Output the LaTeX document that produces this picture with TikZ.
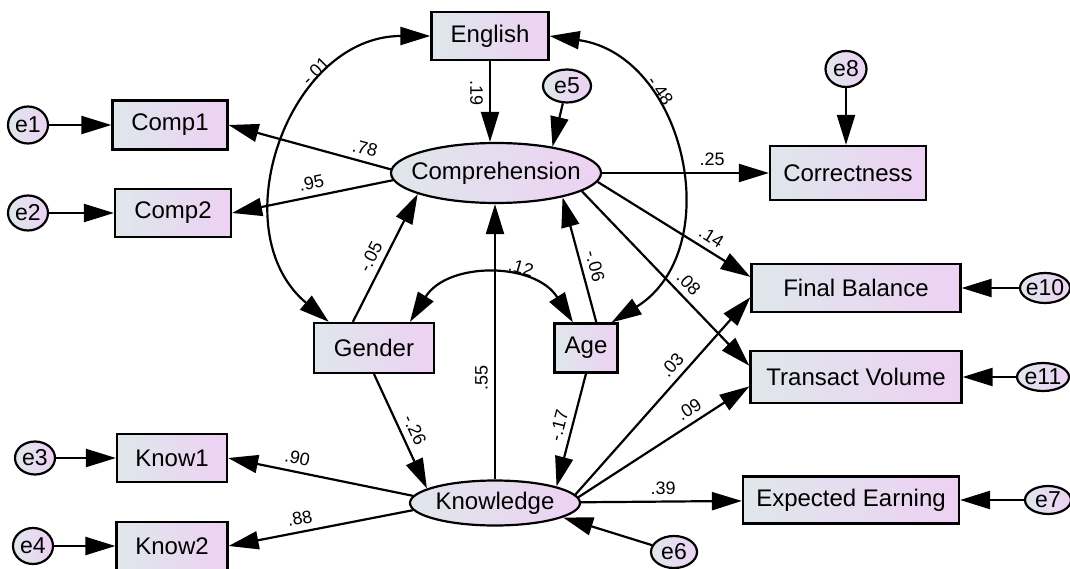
\documentclass[tikz,border=0pt]{standalone}
\usepackage{fontspec}
\setmainfont{Liberation Sans}
\usetikzlibrary{positioning}
\usetikzlibrary{arrows.meta,shapes.geometric}

\definecolor{boxleft}{RGB}{223,231,235}
\definecolor{boxright}{RGB}{237,209,243}

\begin{document}
\begin{tikzpicture}[x=1pt,y=1pt,on grid,line width=2.2pt,
		>={Triangle[length=30pt,width=18pt]},
		obs/.style={rectangle,draw,left color=boxleft,right color=boxright,inner sep=0pt,font=\fontsize{24}{28}\selectfont},
		latent/.style={ellipse,draw,left color=boxleft,right color=boxright,inner xsep=-25pt,inner ysep=0pt,font=\fontsize{24}{28}\selectfont},
		err/.style={ellipse,draw,left color=boxleft,right color=boxright,inner xsep=-6pt,inner ysep=0pt,font=\fontsize{23}{27}\selectfont},
		coef/.style={font=\fontsize{18}{20}\selectfont,inner sep=6pt}]
		\path[use as bounding box,fill=white] (0,0) rectangle (1070,-569);
		
		\node[obs,minimum width=117pt,minimum height=48pt] (english) at (490,-36) {English};
		\node[latent,minimum width=210pt,minimum height=60pt] (comp) [below right=137pt and 6pt of english] {Comprehension};
		\node[err,minimum width=48pt,minimum height=33pt] (e5) [above right=87pt and 71pt of comp] {e5};
		\node[obs,minimum width=156pt,minimum height=54pt] (correct) [right=352pt of comp] {Correctness};
		\node[err,minimum width=41pt,minimum height=36pt] (e8) [above left=104pt and 2pt of correct] {e8};
		\node[obs,minimum width=115pt,minimum height=49pt] (comp1) [above left=48pt and 326pt of comp] {Comp1};
		\node[obs,minimum width=116pt,minimum height=48pt] (comp2) [below left=40pt and 323pt of comp] {Comp2};
		\node[err,minimum width=40pt,minimum height=37pt] (e1) [left=142pt of comp1] {e1};
		\node[err,minimum width=40pt,minimum height=35pt] (e2) [left=145pt of comp2] {e2};
		
		\node[obs,minimum width=120pt,minimum height=50pt] (gender) [below left=175pt and 122pt of comp] {Gender};
		\node[obs,minimum width=63pt,minimum height=49pt] (age) [right=212pt of gender] {Age};
		\node[latent,minimum width=170pt,minimum height=45pt] (know) [below right=155pt and 121pt of gender] {Knowledge};
		\node[err,minimum width=46pt,minimum height=32pt] (e6) [below right=49pt and 179pt of know] {e6};
		\node[obs,minimum width=110pt,minimum height=48pt] (know1) [above left=45pt and 323pt of know] {Know1};
		\node[obs,minimum width=111pt,minimum height=48pt] (know2) [below left=43pt and 323pt of know] {Know2};
		\node[err,minimum width=40pt,minimum height=33pt] (e3) [left=137pt of know1] {e3};
		\node[err,minimum width=40pt,minimum height=36pt] (e4) [left=139pt of know2] {e4};
		
		\node[obs,minimum width=209pt,minimum height=48pt] (final) [below right=115pt and 360pt of comp] {Final Balance};
		\node[obs,minimum width=211pt,minimum height=52pt] (trans) [below=89pt of final] {Transact Volume};
		\node[obs,minimum width=216pt,minimum height=47pt] (expect) [below left=123pt and 5pt of trans] {Expected Earning};
		\node[err,minimum width=50pt,minimum height=30pt] (e10) [right=189pt of final] {e10};
		\node[err,minimum width=52pt,minimum height=28pt] (e11) [right=187pt of trans] {e11};
		\node[err,minimum width=46pt,minimum height=28pt] (e7) [right=197pt of expect] {e7};
		
		% error terms
		\path[->]
		(e1) edge (comp1)
		(e2) edge (comp2)
		(e3) edge (know1)
		(e4) edge (know2)
		(e5) edge (comp.25)
		(e8) edge (e8 |- correct.north)
		(e6) edge (know.-12)
		(e10) edge (final)
		(e11) edge (trans)
		(e7) edge (expect);
		
		% regression weights
		\path[->]
		(english) edge node[coef,rotate=-90,anchor=north,pos=.39] {.19} (english |- comp.north)
		(comp.178) edge node[coef,sloped,above,pos=.18] {.78} (comp1.east)
		(comp.184) edge node[coef,sloped,above,pos=.49] {.95} (comp2.east)
		(comp) edge node[coef,above,pos=.66] {.25} (correct)
		(comp.-5) edge node[coef,sloped,above,pos=.7] {.14} (final.174)
		(comp.-12) edge node[coef,sloped,above,pos=.58] {.08} (trans.174)
		(gender.129) edge node[coef,sloped,above,pos=.46] {-.05} (comp.195)
		(age.68) edge node[coef,sloped,above,pos=.42] {-.06} (comp.-20)
		(know) edge node[coef,rotate=90,anchor=south,pos=.37] {.55} (know |- comp.south)
		(gender.south) edge node[coef,sloped,above,pos=.54] {-.26} (know.168)
		(age.south) edge node[coef,sloped,above,pos=.49] {-.17} (know.15)
		(know.175) edge node[coef,sloped,above,pos=.64] {.90} (know1.east)
		(know.185) edge node[coef,sloped,above,pos=.6] {.88} (know2.east)
		(know.6) edge node[coef,sloped,above,pos=.61] {.03} (final.185)
		(know.4) edge node[coef,sloped,above,pos=.69] {.09} (trans.185)
		(know) edge node[coef,above,pos=.51] {.39} (expect);
		
		% covariances
		\path[<->]
		(english.west) edge[out=180,in=140,looseness=1.2] node[coef,sloped,above,pos=.3] {-.01} (gender.150)
		(english.east) edge[out=-8,in=32,looseness=1.2] node[coef,sloped,above,pos=.32] {-.48} (age.45)
		(gender.36) edge[out=58,in=122,looseness=1.12] node[coef,sloped,above,pos=.64] {.12} (age.117);
	\end{tikzpicture}
\end{document}
